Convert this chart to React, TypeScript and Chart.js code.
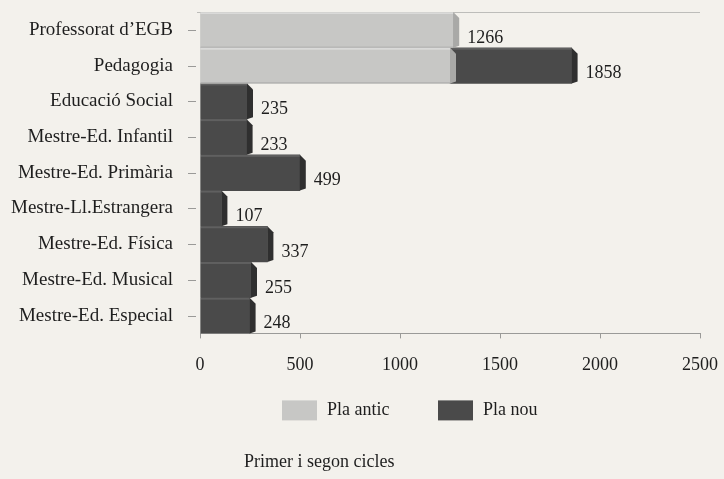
import React, { useEffect, useRef } from "react";
import { Chart, registerables } from "chart.js";

Chart.register(...registerables);

const categories = [
  "Professorat d\u2019EGB",
  "Pedagogia",
  "Educació Social",
  "Mestre-Ed. Infantil",
  "Mestre-Ed. Primària",
  "Mestre-Ll.Estrangera",
  "Mestre-Ed. Física",
  "Mestre-Ed. Musical",
  "Mestre-Ed. Especial",
];
const plaAntic = [1266, 1250, 0, 0, 0, 0, 0, 0, 0];
const plaNou = [0, 608, 235, 233, 499, 107, 337, 255, 248];
const valueLabels = ["1266", "1858", "235", "233", "499", "107", "337", "255", "248"];
const seriesNames = ["Pla antic", "Pla nou"];
const xTicks = [0, 500, 1000, 1500, 2000, 2500];
const chartTitle = "Primer i segon cicles";

const FONT = "'Liberation Serif', 'DejaVu Serif', serif";
const TEXT = "#1e1e1e";
const FRONT = ["#c7c7c5", "#4a4a4a"];
const SIDE = ["#a9a9a7", "#2f2f2f"];
const BG = "#f3f1ec";
const AXIS = "#9a9a98";

const depthPlugin = {
  id: "depth3d",
  afterDatasetsDraw(chart: any) {
    const ctx = chart.ctx;
    const area = chart.chartArea;
    ctx.save();
    // top frame line
    ctx.strokeStyle = "#bdbdba";
    ctx.lineWidth = 1;
    ctx.beginPath();
    ctx.moveTo(area.left - 3, area.top + 0.5);
    ctx.lineTo(area.right, area.top + 0.5);
    ctx.stroke();
    // y tick marks
    const ys = chart.scales.y;
    ctx.strokeStyle = AXIS;
    ys.ticks.forEach((_: any, i: number) => {
      const y = Math.round(ys.getPixelForTick(i)) + 0.5;
      ctx.beginPath();
      ctx.moveTo(area.left - 12, y);
      ctx.lineTo(area.left - 4, y);
      ctx.stroke();
    });
    chart.data.datasets.forEach((ds: any, di: number) => {
      const meta = chart.getDatasetMeta(di);
      meta.data.forEach((el: any, i: number) => {
        if (!ds.data[i]) return;
        const p = el.getProps(["x", "y", "height", "base"], true);
        const top = p.y - p.height / 2;
        const bottom = p.y + p.height / 2;
        const d = 6;
        ctx.fillStyle = SIDE[di];
        ctx.beginPath();
        ctx.moveTo(p.x, top);
        ctx.lineTo(p.x + d, top + d);
        ctx.lineTo(p.x + d, bottom - 2);
        ctx.lineTo(p.x, bottom);
        ctx.closePath();
        ctx.fill();
        ctx.fillStyle = di === 0 ? "rgba(255,255,255,0.35)" : "rgba(255,255,255,0.12)";
        ctx.fillRect(Math.min(p.x, p.base), top, Math.abs(p.x - p.base), 2);
        if (di === 0) {
          ctx.fillStyle = "rgba(0,0,0,0.15)";
          ctx.fillRect(Math.min(p.x, p.base), bottom - 1, Math.abs(p.x - p.base), 1);
        }
      });
    });
    // value labels at stack ends
    ctx.font = "18px " + FONT;
    ctx.fillStyle = TEXT;
    ctx.textAlign = "left";
    ctx.textBaseline = "middle";
    categories.forEach((_, i) => {
      let el: any = null;
      chart.data.datasets.forEach((ds: any, di: number) => {
        if (ds.data[i]) el = chart.getDatasetMeta(di).data[i];
      });
      if (!el) return;
      ctx.fillText(valueLabels[i], el.x + 14, el.y + 8);
    });
    // legend
    const lx = [area.left + 82, area.left + 238];
    const ly = area.bottom + 67;
    chart.data.datasets.forEach((ds: any, di: number) => {
      ctx.fillStyle = FRONT[di];
      ctx.fillRect(lx[di], ly, 35, 20);
      ctx.fillStyle = TEXT;
      ctx.fillText(ds.label, lx[di] + 45, ly + 10);
    });
    // title
    ctx.fillText(chartTitle, area.left + 44, area.bottom + 129);
    ctx.restore();
  },
};

export default function App() {
  const ref = useRef<HTMLCanvasElement>(null);
  useEffect(() => {
    if (!ref.current) return;
    const chart = new Chart(ref.current, {
      type: "bar",
      data: {
        labels: categories,
        datasets: [
          { label: seriesNames[0], data: plaAntic, backgroundColor: FRONT[0], borderWidth: 0 },
          { label: seriesNames[1], data: plaNou, backgroundColor: FRONT[1], borderWidth: 0 },
        ],
      },
      options: {
        indexAxis: "y",
        responsive: false,
        animation: false,
        layout: { padding: { left: 0, top: 12, right: 24, bottom: 87 } },
        datasets: { bar: { barPercentage: 1, categoryPercentage: 1 } },
        plugins: { legend: { display: false }, tooltip: { enabled: false } },
        scales: {
          x: {
            stacked: true,
            min: 0,
            max: 2500,
            afterBuildTicks: (s: any) => {
              s.ticks = xTicks.map((v) => ({ value: v }));
            },
            afterFit: (s: any) => {
              s.paddingRight = 0;
            },
            ticks: {
              font: { family: FONT, size: 18 },
              color: TEXT,
              padding: 16,
              callback: (v: any) => String(v),
            },
            grid: { drawOnChartArea: false, tickLength: 5, color: AXIS },
            border: { display: true, color: AXIS },
          },
          y: {
            stacked: true,
            afterFit: (s: any) => {
              s.width = 200;
            },
            ticks: { font: { family: FONT, size: 19 }, color: TEXT, padding: 0 },
            grid: {
              drawOnChartArea: false,
              offset: false,
              tickLength: 27,
              tickColor: "rgba(0,0,0,0)",
              color: "rgba(0,0,0,0)",
            },
            border: { display: false },
          },
        },
      },
      plugins: [depthPlugin],
    });
    return () => chart.destroy();
  }, []);
  return (
    <div style={{ position: "absolute", left: 0, top: 0, width: 724, height: 479, background: BG }}>
      <canvas ref={ref} width={724} height={479} style={{ display: "block" }} />
    </div>
  );
}
